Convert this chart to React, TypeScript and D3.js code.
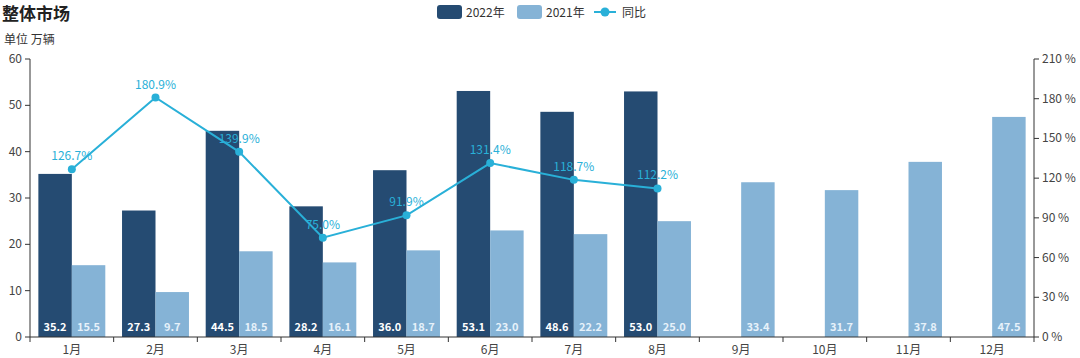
import React from "react";
import * as d3 from "d3";

const months = ["1月", "2月", "3月", "4月", "5月", "6月", "7月", "8月", "9月", "10月", "11月", "12月"];
const sales2022: (number | null)[] = [35.2, 27.3, 44.5, 28.2, 36.0, 53.1, 48.6, 53.0, null, null, null, null];
const sales2021: number[] = [15.5, 9.7, 18.5, 16.1, 18.7, 23.0, 22.2, 25.0, 33.4, 31.7, 37.8, 47.5];
const yoy: (number | null)[] = [126.7, 180.9, 139.9, 75.0, 91.9, 131.4, 118.7, 112.2, null, null, null, null];
const leftTicks = [0, 10, 20, 30, 40, 50, 60];
const rightTicks = [0, 30, 60, 90, 120, 150, 180, 210];

const W = 1080, H = 358;
const L = 30, R = 1034, T = 59, B = 337;
const DARK = "#254b72";
const LIGHT = "#85b3d6";
const LINE = "#29b0d8";
const AXIS = "#333";
const FONT = "'Noto Sans CJK SC', 'Noto Sans', sans-serif";

export default function App() {
  const x = d3.scaleBand<string>().domain(months).range([L, R]).paddingInner(0).paddingOuter(0);
  const yL = d3.scaleLinear().domain([0, 60]).range([B, T]);
  const yR = d3.scaleLinear().domain([0, 210]).range([B, T]);
  const bw = x.bandwidth();
  const barW = bw * 0.4;
  const lineGen = d3.line<[string, number | null]>()
    .defined((d) => d[1] != null)
    .x((d) => (x(d[0]) as number) + bw / 2)
    .y((d) => yR(d[1] as number));
  const linePts: [string, number | null][] = months.map((m, i) => [m, yoy[i]]);

  return (
    <svg width={W} height={H} style={{ position: "absolute", left: 0, top: 0, fontFamily: FONT }}>
      <rect width={W} height={H} fill="#fff" />
      <text x={2} y={20} fontSize={17} fontWeight="bold" fill="#222">整体市场</text>
      <text x={4} y={44} fontSize={12} fill="#333">单位 万辆</text>

      {/* legend */}
      <g fontSize={12} fill="#333">
        <rect x={437} y={5} width={25} height={14} rx={3} fill={DARK} />
        <text x={466} y={16.5}>2022年</text>
        <rect x={517} y={5} width={25} height={14} rx={3} fill={LIGHT} />
        <text x={546} y={16.5}>2021年</text>
        <line x1={594} x2={616} y1={12} y2={12} stroke={LINE} strokeWidth={2} />
        <circle cx={605} cy={12} r={4.5} fill={LINE} />
        <text x={622} y={16.5}>同比</text>
      </g>

      {/* bars */}
      {months.map((m, i) => {
        const x0 = (x(m) as number) + bw * 0.1;
        const v22 = sales2022[i];
        const v21 = sales2021[i];
        return (
          <g key={m}>
            {v22 != null && (
              <g>
                <rect x={x0} y={yL(v22)} width={barW} height={B - yL(v22)} fill={DARK} />
                <text x={x0 + barW / 2} y={B - 6} textAnchor="middle" fontSize={11} fontWeight="bold" fill="#fff">{v22.toFixed(1)}</text>
              </g>
            )}
            <rect x={x0 + barW} y={yL(v21)} width={barW} height={B - yL(v21)} fill={LIGHT} />
            <text x={x0 + barW * 1.5} y={B - 6} textAnchor="middle" fontSize={11} fontWeight="bold" fill="#e6f1fa">{v21.toFixed(1)}</text>
          </g>
        );
      })}

      {/* line */}
      <path d={lineGen(linePts) || ""} fill="none" stroke={LINE} strokeWidth={2} />
      {linePts.filter((d) => d[1] != null).map((d) => {
        const cx = (x(d[0]) as number) + bw / 2;
        const cy = yR(d[1] as number);
        return (
          <g key={d[0]}>
            <circle cx={cx} cy={cy} r={4} fill={LINE} />
            <text x={cx} y={cy - 9} textAnchor="middle" fontSize={12} fill={LINE}>{(d[1] as number).toFixed(1)}%</text>
          </g>
        );
      })}

      {/* left axis */}
      <line x1={L} x2={L} y1={T} y2={B} stroke={AXIS} />
      {leftTicks.map((t) => (
        <g key={t}>
          <line x1={L - 5} x2={L} y1={yL(t)} y2={yL(t)} stroke={AXIS} />
          <text x={L - 8} y={yL(t) + 4} textAnchor="end" fontSize={12} fill="#444">{t}</text>
        </g>
      ))}
      {/* right axis */}
      <line x1={R} x2={R} y1={T} y2={B} stroke={AXIS} />
      {rightTicks.map((t) => (
        <g key={t}>
          <line x1={R} x2={R + 5} y1={yR(t)} y2={yR(t)} stroke={AXIS} />
          <text x={R + 8} y={yR(t) + 4} textAnchor="start" fontSize={12} fill="#444">{t} %</text>
        </g>
      ))}
      {/* bottom axis */}
      <line x1={L} x2={R} y1={B} y2={B} stroke={AXIS} />
      {months.map((m) => (
        <line key={"t" + m} x1={x(m) as number} x2={x(m) as number} y1={B} y2={B + 5} stroke={AXIS} />
      ))}
      <line x1={R} x2={R} y1={B} y2={B + 5} stroke={AXIS} />
      {months.map((m) => (
        <text key={"l" + m} x={(x(m) as number) + bw / 2} y={B + 17} textAnchor="middle" fontSize={12} fill="#444">{m}</text>
      ))}
    </svg>
  );
}
